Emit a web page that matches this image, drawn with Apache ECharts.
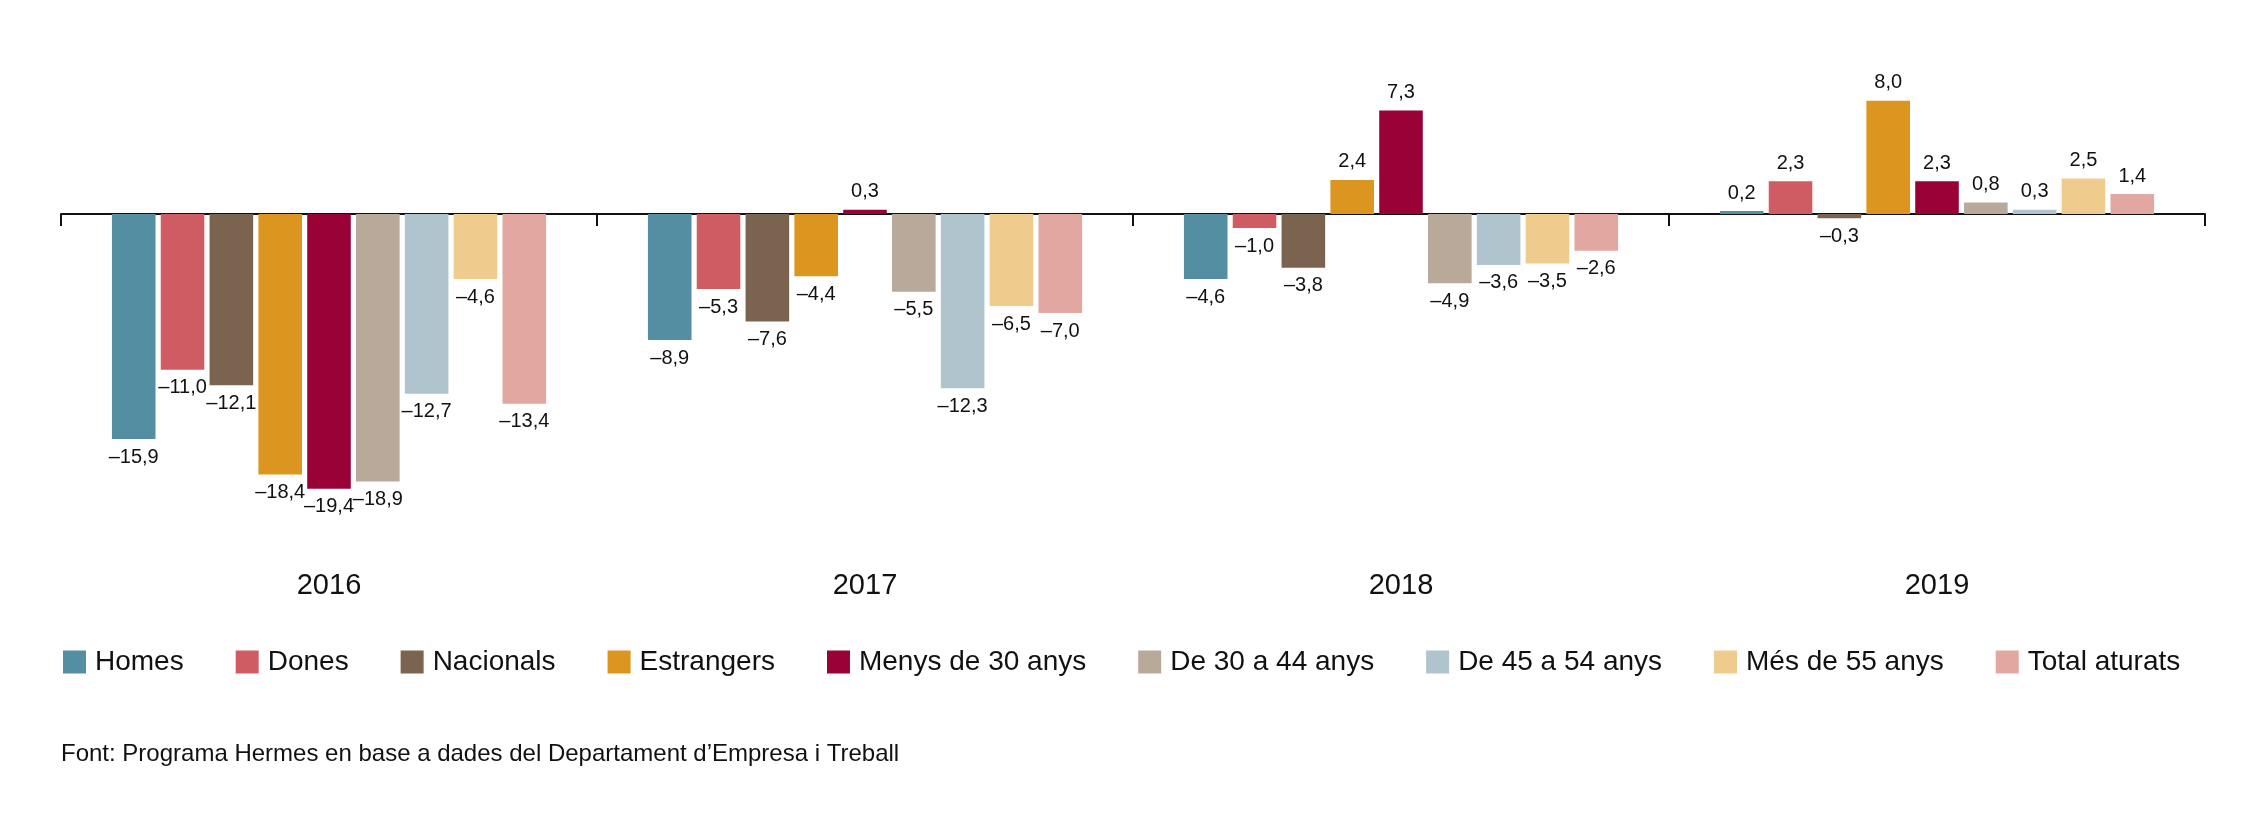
<!DOCTYPE html>
<html>
<head>
<meta charset="utf-8">
<script src="https://cdn.jsdelivr.net/npm/echarts@6/dist/echarts.min.js"></script>
<style>html,body{margin:0;padding:0;background:#fff}#chart{width:2268px;height:833px}</style>
</head>
<body>
<div id="chart"></div>
<script>
var years = ['2016', '2017', '2018', '2019'];
var groups = ['Homes', 'Dones', 'Nacionals', 'Estrangers', 'Menys de 30 anys', 'De 30 a 44 anys', 'De 45 a 54 anys', 'Més de 55 anys', 'Total aturats'];
var colors = ['#548ea3', '#cf5c63', '#7a6450', '#dc951e', '#9a0237', '#b8a99a', '#afc4cd', '#efcb8e', '#e2a7a1'];
var homes = [-15.9, -8.9, -4.6, 0.2];
var dones = [-11.0, -5.3, -1.0, 2.3];
var nacionals = [-12.1, -7.6, -3.8, -0.3];
var estrangers = [-18.4, -4.4, 2.4, 8.0];
var menys30 = [-19.4, 0.3, 7.3, 2.3];
var de30a44 = [-18.9, -5.5, -4.9, 0.8];
var de45a54 = [-12.7, -12.3, -3.6, 0.3];
var mes55 = [-4.6, -6.5, -3.5, 2.5];
var total = [-13.4, -7.0, -2.6, 1.4];
var values = [homes, dones, nacionals, estrangers, menys30, de30a44, de45a54, mes55, total];

var chart = echarts.init(document.getElementById('chart'));
var font = 'Liberation Sans';

function fmt(v) {
  return v.toFixed(1).replace('.', ',').replace('-', '\u2013');
}

var series = groups.map(function (name, i) {
  return {
    name: name,
    type: 'bar',
    barGap: '12%',
    barCategoryGap: '19%',
    itemStyle: { color: colors[i] },
    data: values[i].map(function (v) {
      return {
        value: v,
        label: { position: v >= 0 ? 'top' : 'bottom' }
      };
    }),
    label: {
      show: true,
      distance: 8,
      color: '#111',
      fontFamily: font,
      fontSize: 20,
      formatter: function (p) { return fmt(p.value); }
    }
  };
});

chart.setOption({
  animation: false,
  textStyle: { fontFamily: font },
  grid: { left: 61, right: 63, top: 44, bottom: 265 },
  legend: {
    left: 58,
    top: 643,
    itemWidth: 23,
    itemHeight: 23,
    itemGap: 52,
    icon: 'rect',
    textStyle: { fontFamily: font, fontSize: 28, color: '#111', padding: [0, 0, 0, 4] },
    data: groups
  },
  graphic: [{
    type: 'text',
    left: 61,
    top: 742,
    style: {
      text: 'Font: Programa Hermes en base a dades del Departament d\u2019Empresa i Treball',
      fontFamily: font,
      fontSize: 24,
      fill: '#111'
    }
  }],
  xAxis: [{
    type: 'category',
    data: years,
    axisLine: { onZero: true, lineStyle: { color: '#111', width: 2 } },
    axisTick: { show: true, length: 12, lineStyle: { color: '#111', width: 2 } },
    axisLabel: { show: false }
  }, {
    type: 'category',
    data: years,
    position: 'bottom',
    axisLine: { show: false },
    axisTick: { show: false },
    axisLabel: { margin: 3, fontFamily: font, fontSize: 29, color: '#111' }
  }],
  yAxis: {
    type: 'value',
    min: -25,
    max: 12,
    show: false,
    splitLine: { show: false }
  },
  series: series
});
</script>
</body>
</html>
